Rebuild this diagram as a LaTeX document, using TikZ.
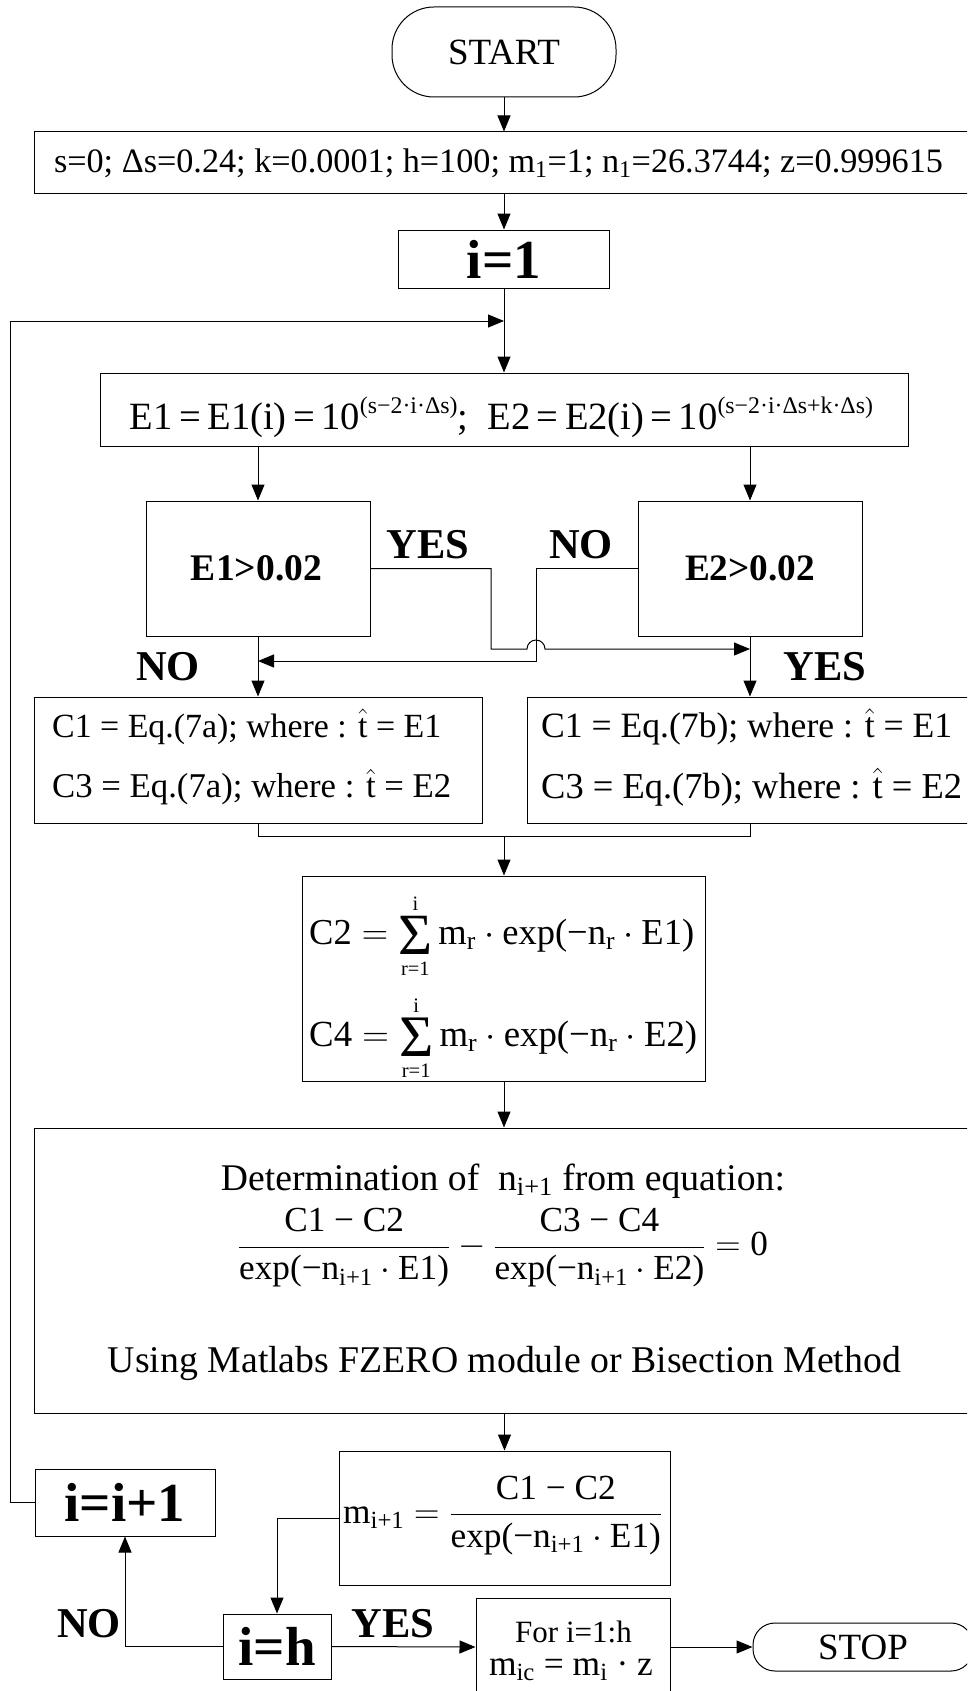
\RequirePackage{fix-cm}
\documentclass[tikz,border=0pt]{standalone}
\usepackage{fontspec}
\setmainfont{Liberation Serif}
\usetikzlibrary{arrows.meta}
\newcommand{\sbs}[1]{\textsubscript{#1}}
\newcommand{\fsz}[1]{\fontsize{#1}{#1}\selectfont}
\newcommand{\supx}[1]{\raisebox{14pt}{\fsz{21}#1}}
\newcommand{\bigsum}{\mathop{\vcenter{\hbox{\scalebox{1.6}{Σ}}}}\limits_{\mbox{\rule{0pt}{18pt}\fsz{19}r=1}}^{\mbox{\fsz{19}i\rule[-4pt]{0pt}{0pt}}}}
\tikzset{
  box/.style={draw, line width=1pt, rectangle, inner sep=0pt},
  term/.style={draw, line width=1pt, rectangle, rounded corners=#1, inner sep=0pt, font=\fsz{37}},
  conn/.style={line width=1pt, -{Triangle[length=16pt,width=13pt]}},
  plain/.style={line width=1pt},
  lbl/.style={font=\fsz{42.5}\bfseries, inner sep=0pt},
  big/.style={font=\fsz{55}\bfseries, inner sep=0pt},
  txt/.style={inner sep=0pt, font=\fsz{34}},
}
\begin{document}
\begin{tikzpicture}[x=1pt,y=-1pt]
\useasboundingbox (0,0) rectangle (967,1691);
\clip (0,0) rectangle (967,1691);

% nodes
\node[term=42pt, minimum width=224pt, minimum height=90pt] (start) at (504,52) {START};
\node[box, minimum width=966pt, minimum height=61pt] (init) at (517,162.5) {};
\node[txt] (initt) at (498.5,163) {\resizebox{889pt}{!}{s=0; Δs=0.24; k=0.0001; h=100; m\sbs{1}=1; n\sbs{1}=26.3744; z=0.999615}};
\node[box, big, minimum width=211pt, minimum height=58pt] (i1) at (504,259) {i=1};
\coordinate (loopin) at (504,321);
\node[box, minimum width=808pt, minimum height=73pt] (ebox) at (504,409.5) {};
\node[txt] (et) at (501.5,417) {\resizebox{743pt}{!}{E1\,=\,E1(i)\,=\,10\supx{(s−2·i·Δs)};\ \ E2\,=\,E2(i)\,=\,10\supx{(s−2·i·Δs+k·Δs)}}};

\node[box, minimum width=224pt, minimum height=135pt] (d1) at (258,568.5) {};
\node[inner sep=0pt] (d1t) at (256.5,568.5) {\resizebox{131pt}{!}{\fsz{37}\bfseries E1>0.02}};
\node[box, minimum width=224pt, minimum height=135pt] (d2) at (750,568.5) {};
\node[inner sep=0pt] (d2t) at (750,568.5) {\resizebox{130pt}{!}{\fsz{37}\bfseries E2>0.02}};

\node[lbl] (yes1) at (428,545) {YES};
\node[lbl] (no1) at (581,545) {NO};
\node[lbl] (no2) at (168,667) {NO};
\node[lbl] (yes2) at (825,667) {YES};

\node[box, minimum width=448pt, minimum height=126pt] (cl) at (258,760) {};
\node[txt, anchor=west] (cl1) at (52,727) {\resizebox{389pt}{!}{C1 = Eq.(7a); where : $\hat{\mbox{t}}$ = E1}};
\node[txt, anchor=west] (cl2) at (52,787) {\resizebox{399pt}{!}{C3 = Eq.(7a); where : $\hat{\mbox{t}}$ = E2}};
\node[box, minimum width=473pt, minimum height=126pt] (cr) at (763.5,760) {};
\node[txt, anchor=west] (cr1) at (541,727) {\resizebox{411pt}{!}{C1 = Eq.(7b); where : $\hat{\mbox{t}}$ = E1}};
\node[txt, anchor=west] (cr2) at (541,787) {\resizebox{421pt}{!}{C3 = Eq.(7b); where : $\hat{\mbox{t}}$ = E2}};

\coordinate (merge) at (504,836);
\node[box, minimum width=403pt, minimum height=205pt] (c2) at (504,978.5) {};
\node[txt, anchor=base west] (c2t) at (309,944) {\resizebox{385pt}{!}{$\mbox{C2} = \bigsum \mbox{m\sbs{r}}\cdot\mbox{exp(−n\sbs{r}}\cdot\mbox{E1)}$}};
\node[txt, anchor=base west] (c4t) at (309,1046) {\resizebox{388pt}{!}{$\mbox{C4} = \bigsum \mbox{m\sbs{r}}\cdot\mbox{exp(−n\sbs{r}}\cdot\mbox{E2)}$}};

\node[box, minimum width=966pt, minimum height=285pt] (bigb) at (517,1270.5) {};
\node[txt] (dt1) at (503,1181) {\resizebox{564pt}{!}{Determination of\ \ n\sbs{i+1} from equation:}};
\node[txt] (dt2) at (503,1248) {\resizebox{530pt}{!}{$\displaystyle\frac{\mbox{C1 − C2}}{\mbox{exp(−n\sbs{i+1}}\cdot\mbox{E1)}} - \frac{\mbox{C3 − C4}}{\mbox{exp(−n\sbs{i+1}}\cdot\mbox{E2)}} = \mbox{0}$}};
\node[txt] (dt3) at (504.5,1363) {\resizebox{793pt}{!}{Using Matlabs FZERO module or Bisection Method}};

\node[box, minimum width=331pt, minimum height=134pt] (mbox) at (504.5,1518) {};
\node[txt, anchor=base west] (mt) at (343,1523) {\resizebox{319pt}{!}{$\mbox{m\sbs{i+1}} = \displaystyle\frac{\mbox{C1 − C2}}{\mbox{exp(−n\sbs{i+1}}\cdot\mbox{E1)}}$}};

\node[box, big, minimum width=180pt, minimum height=67pt] (ip) at (125,1502.5) {i=i+1};
\node[box, big, minimum width=108pt, minimum height=65pt] (ih) at (277,1646.5) {i=h};
\node[lbl] (no3) at (89,1624) {NO};
\node[lbl] (yes3) at (393,1624) {YES};

\node[box, minimum width=194pt, minimum height=98pt] (fbox) at (573,1647) {};
\node[anchor=base, inner sep=0pt, font=\fsz{31}] (ft1) at (573.5,1642) {For i=1:h};
\node[anchor=base, inner sep=0pt] (ft2) at (571,1675) {\resizebox{164pt}{!}{\fsz{31}m\sbs{ic} = m\sbs{i} · z}};
\node[term=22pt, minimum width=220pt, minimum height=48pt] (stop) at (863,1647) {STOP};

% connectors
\draw[conn] (start.south) -- (start.south |- init.north);
\draw[conn] (i1.north |- init.south) -- (i1.north);
\draw[conn] (i1.south) -- (ebox.north);
\draw[conn] (ebox.south -| d1.north) -- (d1.north);
\draw[conn] (ebox.south -| d2.north) -- (d2.north);
\draw[conn] (d1.east) -- (491,568.5) -- (491,649) -- (527,649) arc[start angle=180, end angle=0, radius=9pt] -- (750,649);
\draw[conn] (d2.west) -- (536,568.5) -- (536,661) -- (258,661);
\draw[conn] (d1.south) -- (cl.north -| d1.south);
\draw[conn] (d2.south) -- (cr.north -| d2.south);
\draw[plain] (cl.south -| d1.south) -- (merge -| d1.south) -- (merge -| d2.south) -- (cr.south -| d2.south);
\draw[conn] (merge) -- (c2.north);
\draw[conn] (c2.south) -- (c2.south |- bigb.north);
\draw[conn] (mbox.north |- bigb.south) -- (mbox.north);
\draw[conn] (mbox.west) -| (ih.north);
\draw[conn] (ih.west) -| (ip.south);
\draw[conn] (ip.west) -- (10,1502.5) -- (10,321) -- (loopin);
\draw[conn] (ih.east) -- (fbox.west);
\draw[conn] (fbox.east) -- (stop.west);
\end{tikzpicture}
\end{document}
